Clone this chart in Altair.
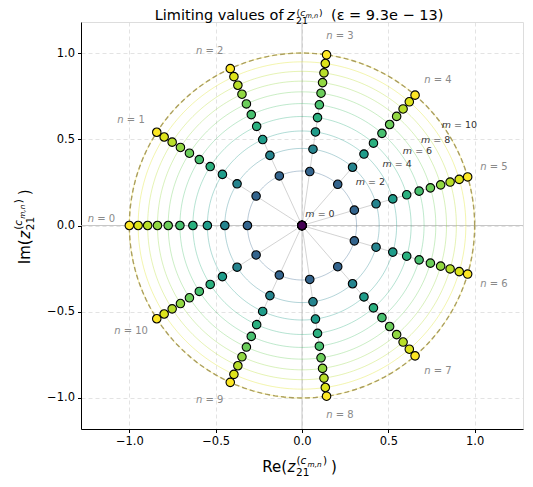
import math
import altair as alt
import numpy as np
import pandas as pd

# ---------------- data ----------------
n_values = list(range(11))
ray_angles_deg = [180.0, 147.27, 114.55, 81.82, 49.09, 16.36,
                  -16.36, -49.09, -81.82, -114.55, -147.27]
m_values = list(range(11))
m_radii = [0.0, 0.316, 0.447, 0.548, 0.632, 0.707, 0.775, 0.837, 0.894, 0.949, 1.0]
n_label_x = [-1.162, -0.99, -0.535, 0.22, 0.787, 1.112, 1.112, 0.787, 0.22, -0.535, -0.99]
n_label_y = [0.035, 0.612, 1.012, 1.10, 0.845, 0.337, -0.337, -0.845, -1.10, -1.012, -0.612]
m_label_values = [0, 2, 4, 6, 8, 10]
m_label_radii = [0.124, 0.47, 0.655, 0.795, 0.92, 1.083]
m_label_angle_deg = 32.7
unit_circle_radius = [1.0]
x_ticks = [-1.0, -0.5, 0.0, 0.5, 1.0]
y_ticks = [-1.0, -0.5, 0.0, 0.5, 1.0]
title_main = "Limiting values of"
title_tail = "(ε = 9.3e − 13)"

# ---------------- layout ----------------
W, H = 442, 407
XDOM = [-1.28, 1.28]
YDOM = [-1.18, 1.18]
PX_PER_UNIT = W / (XDOM[1] - XDOM[0])
FONT = "DejaVu Sans"
NB = "\u00a0"

ADV = {"n": 1298, "m": 1995, " ": 651, NB: 651, "=": 1716}
for d in "0123456789":
    ADV[d] = 1303


def text_width(s, size):
    return sum(ADV.get(c, 1200) for c in s) / 2048.0 * size


# points
rows = []
for mi, r in zip(m_values, m_radii):
    for n, a in zip(n_values, ray_angles_deg):
        t = math.radians(a)
        rows.append({"n": n, "m": mi, "r": r, "x": r * math.cos(t), "y": r * math.sin(t)})
pts = pd.DataFrame(rows)

# rays (origin to outermost point)
rays = pd.DataFrame([
    {"n": n, "x": 0.0, "y": 0.0,
     "x2": m_radii[-1] * math.cos(math.radians(a)),
     "y2": m_radii[-1] * math.sin(math.radians(a))}
    for n, a in zip(n_values, ray_angles_deg)
])

# circles
th = np.linspace(0, 2 * np.pi, 241)
crow = []
for mi, r in zip(m_values[1:], m_radii[1:]):
    for i, t in enumerate(th):
        crow.append({"m": mi, "r": r, "i": i, "x": r * np.cos(t), "y": r * np.sin(t)})
circles = pd.DataFrame(crow)
urow = []
for r in unit_circle_radius:
    for i, t in enumerate(th):
        urow.append({"i": i, "x": r * np.cos(t), "y": r * np.sin(t)})
unit = pd.DataFrame(urow)

# n labels (text split so that "n" is italic)
NFS = 10
nl = []
for n, cx, cy in zip(n_values, n_label_x, n_label_y):
    total = text_width("n = " + str(n), NFS)
    split = cx + (-total / 2 + text_width("n", NFS)) / PX_PER_UNIT
    nl.append({"x": split, "y": cy, "a": "n", "b": "=" + NB + str(n)})
nlab = pd.DataFrame(nl)

MFS = 9.5
ml = []
for mv, rr in zip(m_label_values, m_label_radii):
    t = math.radians(m_label_angle_deg)
    cx, cy = rr * math.cos(t), rr * math.sin(t)
    total = text_width("m = " + str(mv), MFS)
    split = cx + (-total / 2 + text_width("m", MFS)) / PX_PER_UNIT
    ml.append({"x": split, "y": cy, "a": "m", "b": "=" + NB + str(mv)})
mlab = pd.DataFrame(ml)

axis_common = dict(values=x_ticks, title=None, grid=True, gridDash=[4, 3],
                   gridColor="#dcdcdc", gridWidth=0.8, domainColor="black",
                   domainWidth=1, tickColor="black", tickSize=3.5, tickWidth=1,
                   labelFontSize=11.5, labelFont=FONT, labelColor="black",
                   labelPadding=3, labelFlush=False, labelOverlap=False,
                   format=".1f")
xaxis = alt.Axis(**axis_common)
yaxis = alt.Axis(**{**axis_common, "values": y_ticks})
xs = alt.Scale(domain=XDOM, nice=False, zero=False)
ys = alt.Scale(domain=YDOM, nice=False, zero=False)
X = alt.X("x:Q", scale=xs, axis=xaxis)
Y = alt.Y("y:Q", scale=ys, axis=yaxis)
cscale = alt.Scale(scheme="viridis", domain=[0, 1])

zero_lines_v = alt.Chart(pd.DataFrame({"x": [0.0]})).mark_rule(
    color="#b8b8b8", strokeWidth=0.8).encode(x=X)
zero_lines_h = alt.Chart(pd.DataFrame({"y": [0.0]})).mark_rule(
    color="#b8b8b8", strokeWidth=0.8).encode(y=Y)

circ = alt.Chart(circles).mark_line(strokeWidth=1, opacity=0.35).encode(
    x=X, y=Y, detail="m:N", order="i:Q",
    color=alt.Color("r:Q", scale=cscale, legend=None))

ucirc = alt.Chart(unit).mark_line(strokeWidth=1.4, strokeDash=[5, 3],
                                  color="#ab9f5e").encode(x=X, y=Y, order="i:Q")

ray = alt.Chart(rays).mark_rule(color="#c8c8c8", strokeWidth=0.8).encode(
    x=X, y=Y, x2="x2:Q", y2="y2:Q")

dots = alt.Chart(pts).mark_point(filled=True, size=72, stroke="black",
                                 strokeWidth=1.1, opacity=1).encode(
    x=X, y=Y, fill=alt.Fill("r:Q", scale=cscale, legend=None))

nA = alt.Chart(nlab).mark_text(align="right", baseline="middle", fontSize=NFS,
                               font=FONT, fontStyle="italic", color="#8a8a8a").encode(
    x=X, y=Y, text="a:N")
nB = alt.Chart(nlab).mark_text(align="left", baseline="middle", fontSize=NFS,
                               dx=text_width(" ", NFS),
                               font=FONT, color="#8a8a8a").encode(
    x=X, y=Y, text="b:N")
mA = alt.Chart(mlab).mark_text(align="right", baseline="middle", fontSize=MFS,
                               font=FONT, fontStyle="italic", color="#333333").encode(
    x=X, y=Y, text="a:N")
mB = alt.Chart(mlab).mark_text(align="left", baseline="middle", fontSize=MFS,
                               dx=text_width(" ", MFS),
                               font=FONT, color="#333333").encode(
    x=X, y=Y, text="b:N")


def piece(text, x, y, size, italic=False, align="left", angle=0):
    df = pd.DataFrame({"t": [text]})
    kw = dict(align=align, baseline="alphabetic", fontSize=size, font=FONT,
              fontStyle="italic" if italic else "normal", color="black")
    if angle:
        kw["angle"] = angle
    return alt.Chart(df).mark_text(**kw).encode(
        x=alt.value(x), y=alt.value(y), text="t:N")


tb = -2.5
title_pieces = [
    piece(title_main, 202.5, tb, 14.5, align="right"),
    piece("z", 206, tb, 14.5, italic=True),
    piece("21", 215, tb + 4.3, 9.4),
    piece("(", 215.5, tb - 3.4, 9.2),
    piece("c", 219.3, tb - 3.4, 9.2, italic=True),
    piece("m,n", 224.6, tb - 1.2, 6.6, italic=True),
    piece(")", 238.0, tb - 3.4, 9.2),
    piece(title_tail, 250, tb, 14.5),
]

xb = 450
xl = [
    piece("Re(", 206, xb, 15, align="right"),
    piece("z", 206.5, xb, 15, italic=True),
    piece("21", 215, xb + 4, 10.5),
    piece("(", 215.5, xb - 8, 10.5),
    piece("c", 219.6, xb - 8, 10.5, italic=True),
    piece("m,n", 226.5, xb - 5, 7.35, italic=True),
    piece(")", 242, xb - 8, 10.5),
    piece(")", 250, xb, 15),
]

cy0 = 203.0
yb = -51.5
yl = [
    piece("Im(", yb, cy0 + 14.3, 15, align="right", angle=270),
    piece("z", yb, cy0 + 13.8, 15, italic=True, angle=270),
    piece("21", yb + 4, cy0 + 5.3, 10.5, angle=270),
    piece("(", yb - 8, cy0 + 4.8, 10.5, angle=270),
    piece("c", yb - 8, cy0 + 0.7, 10.5, italic=True, angle=270),
    piece("m,n", yb - 5, cy0 - 6.2, 7.35, italic=True, angle=270),
    piece(")", yb - 8, cy0 - 21.7, 10.5, angle=270),
    piece(")", yb, cy0 - 29.7, 15, angle=270),
]

chart = alt.layer(
    zero_lines_v, zero_lines_h, circ, ucirc, ray, dots, nA, nB, mA, mB,
    *title_pieces, *xl, *yl
).properties(
    width=W, height=H,
    autosize=alt.AutoSizeParams(type="none"),
    padding={"left": 73, "top": 14, "right": 1, "bottom": 50},
).configure_view(stroke="black", strokeWidth=1).configure(font=FONT)

chart.save("out.html", embed_options={"renderer": "svg", "actions": False})
